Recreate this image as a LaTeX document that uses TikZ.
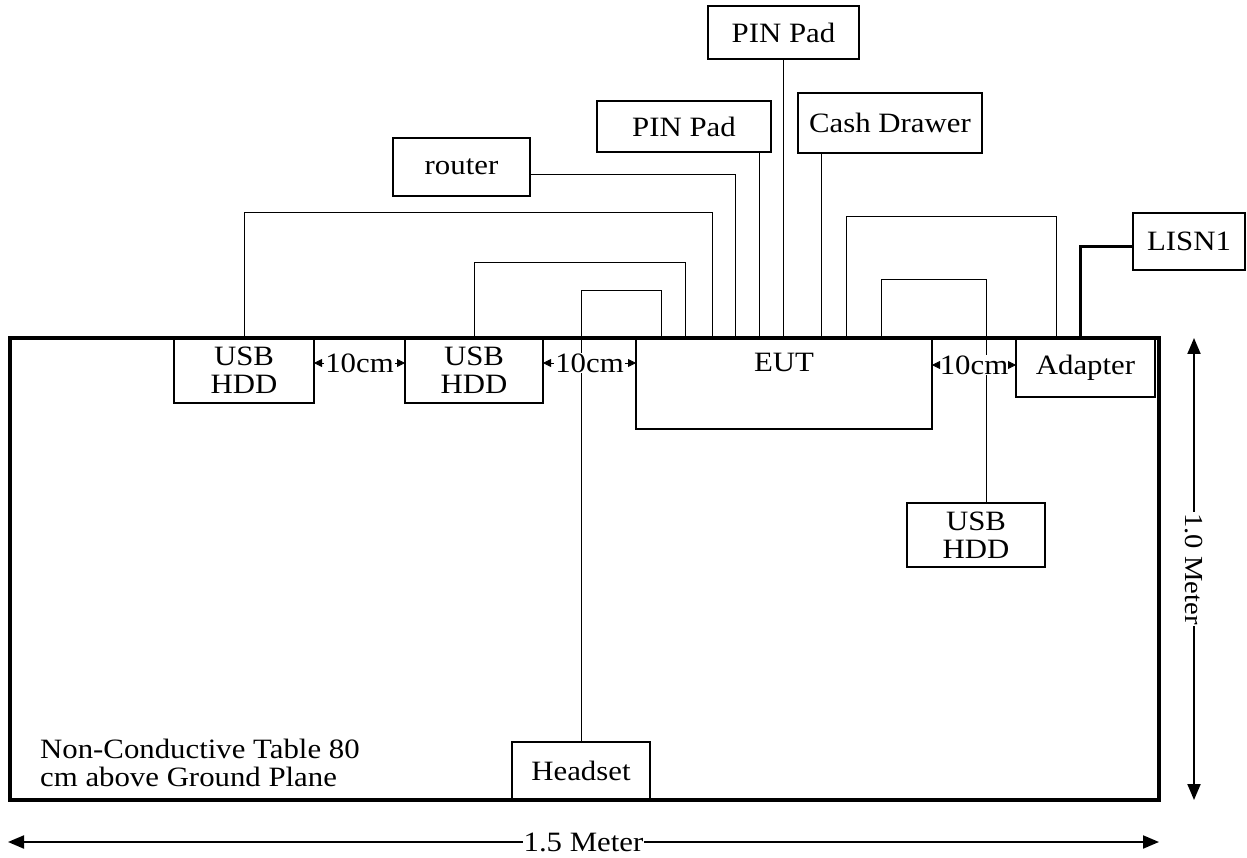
\documentclass[tikz,border=0pt]{standalone}
\usepackage{fontspec}
\setmainfont{Liberation Serif}[FakeStretch=1.1]
\usetikzlibrary{arrows.meta}
\begin{document}
\begin{tikzpicture}[x=1pt,y=-1pt,
  font=\fontsize{28}{28}\selectfont,
  box/.style={draw, line width=1.5pt, inner sep=0pt, outer sep=0pt, align=center},
  cable/.style={line width=1pt},
  thickcable/.style={line width=3pt},
  dimlbl/.style={fill=white, inner sep=1pt},
  gaparrow/.style={-{Triangle[length=8pt,width=8pt]}, line width=0.8pt},
  bigdim/.style={{Triangle[length=16pt,width=13pt]}-{Triangle[length=16pt,width=13pt]}, line width=2pt}]
\useasboundingbox (0,0) rectangle (1247,858);

% boxes
\node[box, minimum width=140pt, minimum height=65pt] (hdd1) at (244,370.5) {USB\\HDD};
\node[box, minimum width=138pt, minimum height=65pt] (hdd2) at (474,370.5) {USB\\HDD};
\node[box, minimum width=296pt, minimum height=91pt] (eut) at (784,383.5) {};
\node (eutlbl) at ([yshift=-24pt]eut.north) {EUT};
\node[box, minimum width=139pt, minimum height=59pt] (adapter) at (1085.5,367.5) {Adapter};
\node[box, minimum width=138pt, minimum height=64pt] (hdd3) at (976,535) {USB\\HDD};
\node[box, minimum width=138pt, minimum height=58pt] (headset) at (581,771) {Headset};
\node[box, minimum width=112pt, minimum height=57pt] (lisn) at (1189,241.5) {LISN1};
\node[box, minimum width=151pt, minimum height=53pt] (pin1) at (783.5,32.5) {PIN Pad};
\node[box, minimum width=174pt, minimum height=51pt] (pin2) at (684,126.5) {PIN Pad};
\node[box, minimum width=184pt, minimum height=60pt] (cash) at (890,123) {Cash Drawer};
\node[box, minimum width=137pt, minimum height=58pt] (router) at (461.5,167) {router};

% table
\node[draw, line width=3.2pt, inner sep=0pt, outer sep=0pt, minimum width=1149pt, minimum height=462pt] (table) at (584.5,569) {};
\node[anchor=west, align=left, inner sep=0pt] (note) at (40,763) {Non-Conductive Table 80\\cm above Ground Plane};

% cable end points on EUT / adapter / HDD
\coordinate (p1) at ([xshift=25pt]eut.north west);
\coordinate (p2) at ([xshift=49pt]eut.north west);
\coordinate (p3) at ([xshift=76pt]eut.north west);
\coordinate (p4) at ([xshift=99pt]eut.north west);
\coordinate (p5) at ([xshift=123pt]eut.north west);
\coordinate (p7) at ([xshift=185pt]eut.north west);
\coordinate (p8) at ([xshift=210pt]eut.north west);
\coordinate (p9) at ([xshift=245pt]eut.north west);
\coordinate (a1) at ([xshift=40pt]adapter.north west);
\coordinate (a2) at ([xshift=64pt]adapter.north west);
\coordinate (h3) at ([xshift=10pt]hdd3.north);

% cables
\draw[cable] (hdd1.north) -- ++(0,-125) -| (p3);
\draw[cable] (hdd2.north) -- ++(0,-75) -| (p2);
\draw[cable] (headset.north) -- ++(0,-451) -| (p1);
\draw[cable] ([yshift=-8pt]router.east) -| (p4);
\draw[cable] (pin2.south -| p5) -- (p5);
\draw[cable] (pin1.south) -- (pin1.south |- eut.north);
\draw[cable] (cash.south -| p7) -- (p7);
\draw[cable] (p8) -- ++(0,-121) -| (a1);
\draw[cable] (p9) -- ++(0,-58) -| (h3);
\draw[thickcable] (a2) |- ([yshift=-5pt]lisn.west);

% 10cm spacings
\node[dimlbl] (d1) at (359.5,363) {10cm};
\draw[gaparrow] (d1.west) -- (d1.west -| hdd1.east);
\draw[gaparrow] (d1.east) -- (d1.east -| hdd2.west);
\node[dimlbl] (d2) at (589.5,363) {10cm};
\draw[gaparrow] (d2.west) -- (d2.west -| hdd2.east);
\draw[gaparrow] (d2.east) -- (d2.east -| eut.west);
\node[dimlbl] (d3) at (974,365) {10cm};
\draw[gaparrow] (d3.west) -- (d3.west -| eut.east);
\draw[gaparrow] (d3.east) -- (d3.east -| adapter.west);

% overall dimensions
\draw[bigdim] ([xshift=35pt]table.north east) -- ([xshift=35pt]table.south east)
  node[midway, fill=white, rotate=-90, inner sep=1pt, font=\fontsize{26}{28}\selectfont] (vlbl) {1.0 Meter};
\draw[bigdim] ([shift={(-2pt,-42pt)}]table.south west) -- ([yshift=-42pt]table.south east)
  node[midway, fill=white, inner sep=1pt] (hlbl) {1.5 Meter};
\end{tikzpicture}
\end{document}
